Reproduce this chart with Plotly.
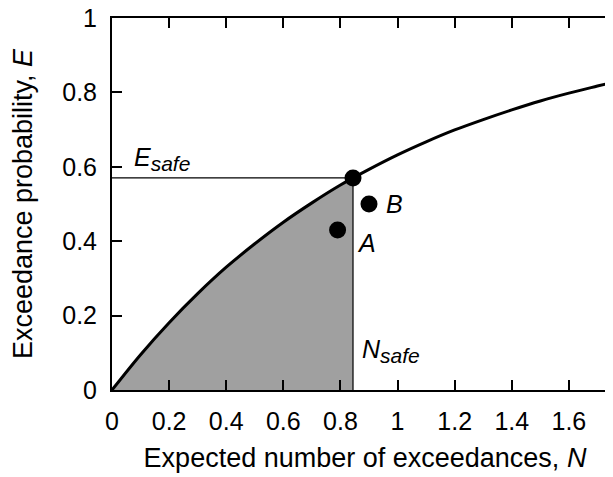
import plotly.graph_objects as go

# Curve: expected number of exceedances N vs exceedance probability E
N_curve = [0, 0.1, 0.2, 0.3, 0.4, 0.5, 0.6, 0.7, 0.8, 0.9, 1.0, 1.1, 1.2, 1.3, 1.4, 1.5, 1.6, 1.7, 1.77]
E_curve = [0, 0.095, 0.181, 0.259, 0.330, 0.393, 0.451, 0.503, 0.551, 0.593, 0.632, 0.667, 0.699, 0.727, 0.753, 0.777, 0.798, 0.817, 0.830]

# Shaded region under the curve up to N_safe
N_shade = [0, 0.1, 0.2, 0.3, 0.4, 0.5, 0.6, 0.7, 0.8, 0.844]
E_shade = [0, 0.095, 0.181, 0.259, 0.330, 0.393, 0.451, 0.503, 0.551, 0.570]

N_safe = 0.844
E_safe = 0.570

# Points A and B
pt_labels = ["A", "B"]
pt_N = [0.79, 0.90]
pt_E = [0.43, 0.50]

x_ticks = [0, 0.2, 0.4, 0.6, 0.8, 1.0, 1.2, 1.4, 1.6]
x_ticklabels = ["0", "0.2", "0.4", "0.6", "0.8", "1", "1.2", "1.4", "1.6"]
y_ticks = [0, 0.2, 0.4, 0.6, 0.8, 1.0]
y_ticklabels = ["0", "0.2", "0.4", "0.6", "0.8", "1"]

FONT = "Liberation Sans, Arial, Helvetica, sans-serif"
FS = 25
FT = 27

fig = go.Figure()

fig.add_trace(go.Scatter(x=N_shade, y=E_shade, mode="lines", line=dict(width=0, shape="spline"),
                         fill="tozeroy", fillcolor="#a0a0a0", hoverinfo="skip", showlegend=False))
fig.add_trace(go.Scatter(x=[0, N_safe], y=[E_safe, E_safe], mode="lines",
                         line=dict(color="black", width=1.2), showlegend=False))
fig.add_trace(go.Scatter(x=[N_safe, N_safe], y=[0, E_safe], mode="lines",
                         line=dict(color="black", width=1.2), showlegend=False))
fig.add_trace(go.Scatter(x=N_curve, y=E_curve, mode="lines",
                         line=dict(color="black", width=3, shape="spline"), showlegend=False))
fig.add_trace(go.Scatter(x=[N_safe] + pt_N, y=[E_safe] + pt_E, mode="markers",
                         marker=dict(color="black", size=17), showlegend=False))

sub = "<span style='font-size:21px'>safe</span>"
fig.add_annotation(x=0.07, y=E_safe + 0.003, xanchor="left", yanchor="bottom",
                   text="<i>E<sub>" + sub + "</sub></i>", showarrow=False,
                   font=dict(size=FS, family=FONT, color="black"))
fig.add_annotation(x=N_safe + 0.025, y=0.105, xanchor="left", yanchor="middle",
                   text="<i>N<sub>" + sub + "</sub></i>", showarrow=False,
                   font=dict(size=FS, family=FONT, color="black"))
fig.add_annotation(x=pt_N[0] + 0.06, y=pt_E[0] - 0.035, xanchor="left", yanchor="middle",
                   text="<i>A</i>", showarrow=False, font=dict(size=FS, family=FONT, color="black"))
fig.add_annotation(x=pt_N[1] + 0.054, y=pt_E[1], xanchor="left", yanchor="middle",
                   text="<i>B</i>", showarrow=False, font=dict(size=FS, family=FONT, color="black"))

fig.update_layout(
    width=613, height=477,
    margin=dict(l=104, r=3, t=10, b=95, autoexpand=False),
    plot_bgcolor="white", paper_bgcolor="white",
    font=dict(family=FONT, size=FS, color="black"),
    showlegend=False,
    xaxis=dict(range=[0, 1.772], tickvals=x_ticks, ticktext=x_ticklabels,
               ticks="inside", ticklen=10, tickwidth=1.5, tickcolor="black",
               showline=True, linecolor="black", linewidth=2, mirror="ticks",
               showgrid=False, zeroline=False, ticklabelstandoff=8, automargin=False,
               ticklabeloverflow="allow",
               title=dict(text="Expected number of exceedances, <i>N</i>", standoff=14,
                          font=dict(size=FT))),
    yaxis=dict(range=[0, 1], tickvals=y_ticks, ticktext=y_ticklabels,
               ticks="inside", ticklen=10, tickwidth=1.5, tickcolor="black",
               showline=True, linecolor="black", linewidth=2, mirror="ticks",
               showgrid=False, zeroline=False, ticklabelstandoff=8, automargin=False,
               ticklabeloverflow="allow",
               title=dict(text="Exceedance probability, <i>E</i>", standoff=28,
                          font=dict(size=FT))),
)

fig.write_html("out.html")
